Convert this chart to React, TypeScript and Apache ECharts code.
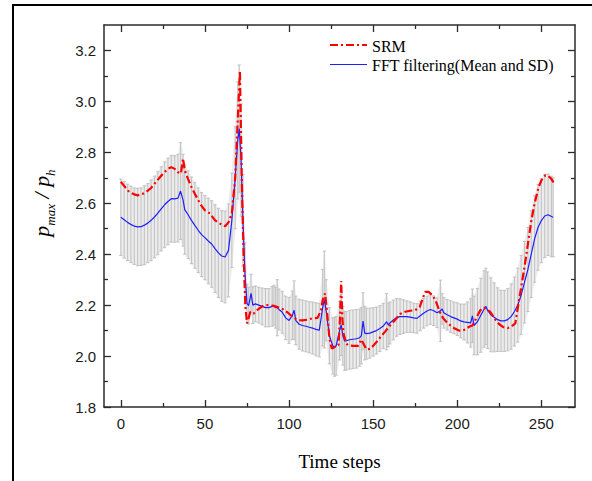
import React, { useEffect, useRef } from "react";
import * as echarts from "echarts";

// FFT filtering: time steps, mean and standard deviation
const fftSteps: number[] = [
  0, 2, 4, 6, 8, 10, 12, 14, 16, 18, 20, 22, 24, 26, 28, 30, 32, 34, 35.5, 37, 38, 40, 42, 44, 46, 48,
  50, 52, 54, 56, 58, 60, 62, 64, 66, 68, 69.5, 70.4, 71.5, 72.6, 73.8, 75, 76, 77.4, 78.5, 80, 82, 84,
  86, 88, 90, 91, 92, 93, 94, 96, 98, 100, 102, 103, 104, 106, 108, 110, 112, 114, 116, 118, 120, 121,
  122, 124, 126, 127, 128, 130, 131, 132, 133, 134, 136, 138, 140, 142, 143, 144, 145, 146, 148, 150,
  152, 154, 156, 158, 159, 160, 162, 164, 166, 168, 170, 172, 174, 176, 178, 180, 182, 184, 186, 188,
  190, 191, 192, 194, 196, 198, 200, 202, 204, 206, 208, 209, 210, 212, 214, 216, 217, 218, 220, 222,
  224, 226, 228, 230, 232, 234, 236, 238, 240, 242, 244, 246, 248, 250, 252, 254, 256, 257,
];
const fftMean: number[] = [
  2.545, 2.535, 2.525, 2.517, 2.51, 2.507, 2.508, 2.514, 2.522, 2.533, 2.546, 2.561, 2.578, 2.594, 2.607,
  2.618, 2.617, 2.62, 2.648, 2.612, 2.575, 2.555, 2.533, 2.513, 2.494, 2.477, 2.465, 2.452, 2.44, 2.422,
  2.405, 2.393, 2.389, 2.415, 2.533, 2.7, 2.847, 2.893, 2.77, 2.533, 2.324, 2.207, 2.198, 2.246, 2.2,
  2.205, 2.2, 2.195, 2.19, 2.19, 2.195, 2.2, 2.19, 2.19, 2.183, 2.172, 2.15, 2.14, 2.16, 2.18, 2.14,
  2.125, 2.12, 2.117, 2.113, 2.11, 2.105, 2.102, 2.19, 2.222, 2.18, 2.08, 2.04, 2.036, 2.04, 2.1, 2.122,
  2.08, 2.06, 2.06, 2.064, 2.066, 2.068, 2.072, 2.08, 2.137, 2.09, 2.088, 2.09, 2.095, 2.1, 2.108, 2.118,
  2.135, 2.122, 2.13, 2.142, 2.152, 2.155, 2.155, 2.155, 2.153, 2.15, 2.148, 2.158, 2.168, 2.177, 2.183,
  2.178, 2.17, 2.178, 2.185, 2.17, 2.162, 2.155, 2.15, 2.145, 2.138, 2.134, 2.132, 2.13, 2.158, 2.12,
  2.135, 2.16, 2.185, 2.195, 2.18, 2.162, 2.152, 2.143, 2.138, 2.138, 2.143, 2.155, 2.175, 2.2, 2.24,
  2.29, 2.34, 2.4, 2.46, 2.505, 2.532, 2.55, 2.555, 2.548, 2.545,
];
const fftSd: number[] = [
  0.15, 0.15, 0.15, 0.15, 0.15, 0.152, 0.152, 0.155, 0.155, 0.158, 0.16, 0.163, 0.165, 0.168, 0.17, 0.17,
  0.17, 0.172, 0.19, 0.18, 0.175, 0.172, 0.17, 0.168, 0.166, 0.165, 0.165, 0.168, 0.17, 0.172, 0.175,
  0.178, 0.18, 0.182, 0.185, 0.2, 0.23, 0.25, 0.22, 0.18, 0.12, 0.075, 0.072, 0.075, 0.072, 0.07, 0.07,
  0.072, 0.075, 0.075, 0.078, 0.078, 0.08, 0.11, 0.08, 0.082, 0.085, 0.09, 0.095, 0.115, 0.095, 0.098,
  0.1, 0.1, 0.1, 0.102, 0.104, 0.105, 0.15, 0.19, 0.12, 0.11, 0.11, 0.115, 0.115, 0.115, 0.12, 0.115,
  0.115, 0.115, 0.115, 0.115, 0.115, 0.112, 0.11, 0.112, 0.105, 0.1, 0.098, 0.095, 0.092, 0.09, 0.088,
  0.11, 0.085, 0.082, 0.078, 0.074, 0.07, 0.066, 0.062, 0.06, 0.058, 0.058, 0.058, 0.058, 0.058, 0.058,
  0.058, 0.058, 0.12, 0.06, 0.06, 0.06, 0.062, 0.062, 0.064, 0.066, 0.07, 0.08, 0.095, 0.105, 0.115,
  0.13, 0.145, 0.15, 0.15, 0.15, 0.145, 0.135, 0.125, 0.12, 0.12, 0.122, 0.128, 0.135, 0.145, 0.155,
  0.16, 0.165, 0.17, 0.17, 0.168, 0.165, 0.163, 0.16, 0.158, 0.155,
];

// SRM: time steps and values
const srmSteps: number[] = [
  0, 3, 5, 8, 10, 13, 15, 18, 20, 23, 25, 28, 30, 32, 34, 35.5, 36, 37, 38, 40, 42, 44, 46, 48, 50, 53,
  56, 59, 62, 64, 66, 68, 69.5, 70.8, 72, 73, 74, 75, 76, 77, 79, 81, 84, 87, 90, 93, 96, 99, 102, 105,
  108, 111, 114, 117, 119, 120, 121.4, 122.5, 124, 125.4, 127, 129.4, 130.3, 131, 131.7, 132.3, 134, 135,
  138, 141, 143, 144.5, 146, 148, 150, 152, 155, 157, 160, 163, 166, 169, 172, 175, 177.7, 180, 181, 183,
  185, 187, 189.6, 191.5, 193.5, 196, 198.5, 201, 203, 205, 207, 209, 211, 213.7, 216, 218, 219.6, 221,
  223, 225, 227.6, 230, 232, 234.5, 236.5, 238, 240, 242, 244, 246, 248.4, 250, 252.4, 254, 256, 257.3,
];
const srmValues: number[] = [
  2.684, 2.66, 2.644, 2.635, 2.631, 2.637, 2.644, 2.66, 2.677, 2.7, 2.716, 2.735, 2.742, 2.735, 2.722,
  2.716, 2.73, 2.776, 2.729, 2.695, 2.664, 2.637, 2.612, 2.59, 2.572, 2.56, 2.533, 2.52, 2.51, 2.525,
  2.56, 2.7, 2.925, 3.12, 2.664, 2.4, 2.2, 2.128, 2.15, 2.174, 2.167, 2.18, 2.195, 2.2, 2.198, 2.193,
  2.185, 2.172, 2.155, 2.141, 2.14, 2.143, 2.148, 2.15, 2.18, 2.22, 2.246, 2.18, 2.07, 2.03, 2.035,
  2.043, 2.15, 2.295, 2.15, 2.09, 2.05, 2.043, 2.04, 2.04, 2.065, 2.045, 2.026, 2.028, 2.04, 2.055,
  2.08, 2.095, 2.12, 2.141, 2.165, 2.174, 2.178, 2.18, 2.193, 2.235, 2.252, 2.252, 2.24, 2.22, 2.174,
  2.15, 2.135, 2.12, 2.108, 2.1, 2.1, 2.105, 2.115, 2.12, 2.145, 2.18, 2.19, 2.18, 2.174, 2.16, 2.14,
  2.125, 2.113, 2.11, 2.115, 2.128, 2.21, 2.27, 2.35, 2.44, 2.53, 2.6, 2.664, 2.69, 2.71, 2.708, 2.695,
  2.681,
];

const xLabelValues: number[] = [0, 50, 100, 150, 200, 250];
const xMinorValues: number[] = [25, 75, 125, 175, 225];
const yLabelValues: number[] = [1.8, 2.0, 2.2, 2.4, 2.6, 2.8, 3.0, 3.2];
const yMinorValues: number[] = [1.9, 2.1, 2.3, 2.5, 2.7, 2.9, 3.1];

const SERIES_SRM = "SRM";
const SERIES_FFT = "FFT filtering(Mean and SD)";

const SANS = "'Liberation Sans', Arial, sans-serif";
const SERIF = "'Liberation Serif', 'Times New Roman', serif";
const AXIS_COLOR = "#2b2b2b";
const RED = "#ff0000";
const BLUE = "#1e1eff";
const SRM_DASH = [8, 3, 2, 3];

export default function App() {
  const ref = useRef<HTMLDivElement>(null);

  useEffect(() => {
    if (!ref.current) return;
    const chart = echarts.init(ref.current, undefined, { renderer: "svg" });

    const errorData = fftSteps.map((s, i) => [s, fftMean[i], fftSd[i]]);
    const meanData = fftSteps.map((s, i) => [s, fftMean[i]]);
    const srmData = srmSteps.map((s, i) => [s, srmValues[i]]);

    const axisLine = { show: true, onZero: false, lineStyle: { color: AXIS_COLOR, width: 1.5 } };
    const tickStyle = { color: AXIS_COLOR, width: 1.3 };

    const xBase = { type: "value", min: -10, max: 270, gridIndex: 0, splitLine: { show: false } };
    const yBase = { type: "value", min: 1.8, max: 3.3, gridIndex: 0, splitLine: { show: false } };

    chart.setOption({
      animation: false,
      backgroundColor: "#ffffff",
      grid: { left: 104, right: 17, top: 25, bottom: 74, containLabel: false },
      xAxis: [
        {
          ...xBase,
          position: "bottom",
          axisLine,
          axisTick: { show: true, inside: true, length: 7, customValues: xLabelValues, lineStyle: tickStyle },
          axisLabel: {
            show: true,
            customValues: xLabelValues,
            margin: 9,
            fontFamily: SANS,
            fontSize: 15,
            color: "#1a1a1a",
          },
          name: "Time steps",
          nameLocation: "middle",
          nameGap: 45,
          nameTextStyle: { fontFamily: SERIF, fontSize: 19, color: "#000" },
        },
        {
          ...xBase,
          position: "bottom",
          axisLine: { show: false, onZero: false },
          axisTick: { show: true, inside: true, length: 4, customValues: xMinorValues, lineStyle: tickStyle },
          axisLabel: { show: false },
        },
        {
          ...xBase,
          position: "top",
          axisLine,
          axisTick: { show: true, inside: true, length: 7, customValues: xLabelValues, lineStyle: tickStyle },
          axisLabel: { show: false },
        },
        {
          ...xBase,
          position: "top",
          axisLine: { show: false, onZero: false },
          axisTick: { show: true, inside: true, length: 4, customValues: xMinorValues, lineStyle: tickStyle },
          axisLabel: { show: false },
        },
      ],
      yAxis: [
        {
          ...yBase,
          position: "left",
          axisLine,
          axisTick: { show: true, inside: true, length: 7, customValues: yLabelValues, lineStyle: tickStyle },
          axisLabel: {
            show: true,
            customValues: yLabelValues,
            margin: 8,
            fontFamily: SANS,
            fontSize: 15,
            color: "#1a1a1a",
            formatter: (v: number) => Number(v).toFixed(1),
          },
          name: "{p|p}{s|max}{p| / p}{s|h}",
          nameLocation: "middle",
          nameGap: 52,
          nameTextStyle: {
            fontFamily: SERIF,
            fontStyle: "italic",
            fontSize: 22,
            color: "#000",
            padding: [0, 0, 0, 26],
            rich: {
              p: { fontFamily: SERIF, fontStyle: "italic", fontSize: 22, lineHeight: 22, verticalAlign: "top", color: "#000" },
              s: {
                fontFamily: SERIF,
                fontStyle: "italic",
                fontSize: 13,
                lineHeight: 13,
                padding: [14, 0, 0, 0],
                verticalAlign: "top",
                color: "#000",
              },
            },
          },
        },
        {
          ...yBase,
          position: "left",
          axisLine: { show: false, onZero: false },
          axisTick: { show: true, inside: true, length: 4, customValues: yMinorValues, lineStyle: tickStyle },
          axisLabel: { show: false },
        },
        {
          ...yBase,
          position: "right",
          axisLine,
          axisTick: { show: true, inside: true, length: 7, customValues: yLabelValues, lineStyle: tickStyle },
          axisLabel: { show: false },
        },
        {
          ...yBase,
          position: "right",
          axisLine: { show: false, onZero: false },
          axisTick: { show: true, inside: true, length: 4, customValues: yMinorValues, lineStyle: tickStyle },
          axisLabel: { show: false },
        },
      ],
      graphic: [
        {
          type: "rect",
          silent: true,
          z: 100,
          shape: { x: 13, y: 5, width: 800, height: 700 },
          style: { fill: "none", stroke: "#000", lineWidth: 2 },
        },
        {
          type: "line",
          silent: true,
          z: 100,
          shape: { x1: 330, y1: 45, x2: 367, y2: 45 },
          style: { stroke: RED, lineWidth: 2.2, lineDash: SRM_DASH },
        },
        {
          type: "text",
          silent: true,
          z: 100,
          x: 372,
          y: 46,
          style: { text: SERIES_SRM, fontFamily: SERIF, fontSize: 16, fill: "#000", verticalAlign: "middle", align: "left" },
        },
        {
          type: "line",
          silent: true,
          z: 100,
          shape: { x1: 330, y1: 64.5, x2: 367, y2: 64.5 },
          style: { stroke: BLUE, lineWidth: 1.2 },
        },
        {
          type: "text",
          silent: true,
          z: 100,
          x: 372,
          y: 65,
          style: { text: SERIES_FFT, fontFamily: SERIF, fontSize: 16, fill: "#000", verticalAlign: "middle", align: "left" },
        },
      ],
      series: [
        {
          type: "custom",
          name: "SD",
          xAxisIndex: 0,
          yAxisIndex: 0,
          silent: true,
          z: 1,
          data: errorData,
          encode: { x: 0, y: [1, 2] },
          renderItem: (params: any, api: any) => {
            const i = params.dataIndex;
            const x = api.value(0);
            const m = api.value(1);
            const s = api.value(2);
            const top = api.coord([x, m + s]);
            const bot = api.coord([x, m - s]);
            const hw = 1.6;
            const st = { stroke: "#c4c4c4", lineWidth: 1.1 };
            const children: any[] = [];
            if (i < errorData.length - 1) {
              const n = errorData[i + 1];
              const nTop = api.coord([n[0], n[1] + n[2]]);
              const nBot = api.coord([n[0], n[1] - n[2]]);
              children.push({
                type: "polygon",
                shape: { points: [top, nTop, nBot, bot] },
                style: { fill: "#ececec", stroke: "#ececec", lineWidth: 0.6 },
              });
            }
            children.push(
              { type: "line", shape: { x1: top[0], y1: top[1], x2: bot[0], y2: bot[1] }, style: st },
              { type: "line", shape: { x1: top[0] - hw, y1: top[1], x2: top[0] + hw, y2: top[1] }, style: st },
              { type: "line", shape: { x1: bot[0] - hw, y1: bot[1], x2: bot[0] + hw, y2: bot[1] }, style: st },
            );
            return { type: "group", children };
          },
        },
        {
          type: "line",
          name: SERIES_FFT,
          xAxisIndex: 0,
          yAxisIndex: 0,
          z: 3,
          data: meanData,
          symbol: "none",
          showSymbol: false,
          lineStyle: { color: BLUE, width: 1.2 },
          itemStyle: { color: BLUE },
        },
        {
          type: "line",
          name: SERIES_SRM,
          xAxisIndex: 0,
          yAxisIndex: 0,
          z: 4,
          data: srmData,
          symbol: "none",
          showSymbol: false,
          lineStyle: { color: RED, width: 2.2, type: SRM_DASH },
          itemStyle: { color: RED },
        },
      ],
    });

    return () => chart.dispose();
  }, []);

  return (
    <div
      ref={ref}
      style={{ position: "absolute", left: 0, top: 0, width: 592, height: 481, background: "#fff" }}
    />
  );
}
